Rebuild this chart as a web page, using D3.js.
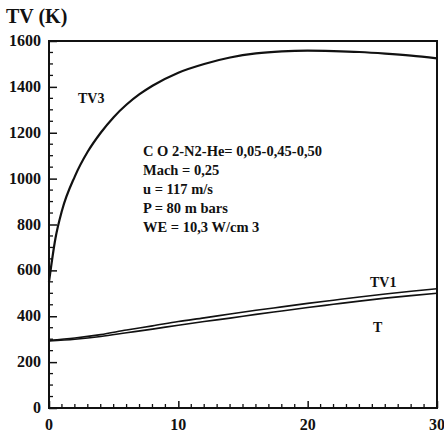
<!DOCTYPE html>
<html>
<head>
<meta charset="utf-8">
<script src="https://cdn.jsdelivr.net/npm/d3@7"></script>
<style>
  body { margin: 0; background: #fff; }
  svg text { font-family: "Liberation Serif", "DejaVu Serif", serif; font-weight: bold; fill: #111; }
</style>
</head>
<body>
<div id="chart"></div>
<script>
// axis ticks
const xTicks = [0, 10, 20, 30];
const yTicks = [0, 200, 400, 600, 800, 1000, 1200, 1400, 1600];

// TV3 curve (distance, temperature K)
const tv3Dist = [0, 0.5, 1, 2, 3, 4, 5, 6, 7, 8, 10, 12, 14, 16, 18, 20, 22, 24, 26, 28, 30];
const tv3Temp = [550, 740, 860, 1010, 1118, 1200, 1268, 1323, 1368, 1405, 1462, 1500, 1528, 1546, 1555, 1558, 1556, 1552, 1545, 1536, 1524];

// TV1 and T share the same sampling
const lowDist = [0, 2, 4, 6, 8, 10, 12, 14, 16, 18, 20, 22, 24, 26, 28, 30];
const tv1Temp = [295, 305, 320, 340, 358, 377, 393, 410, 426, 441, 456, 470, 484, 497, 509, 520];
const tTemp = [292, 300, 312, 328, 344, 361, 377, 392, 408, 423, 438, 452, 466, 479, 490, 500];

// annotation text
const notes = [
  'C O 2-N2-He= 0,05-0,45-0,50',
  'Mach = 0,25',
  'u = 117 m/s',
  'P = 80 m bars',
  'WE = 10,3 W/cm 3'
];

const width = 444;
const height = 435;

const svg = d3.select('#chart').append('svg')
  .attr('width', width)
  .attr('height', height);

const x = d3.scaleLinear().domain([0, 30]).range([49, 437]);
const y = d3.scaleLinear().domain([0, 1600]).range([408, 41]);

// frame
svg.append('rect')
  .attr('x', x(0)).attr('y', y(1600))
  .attr('width', x(30) - x(0)).attr('height', y(0) - y(1600))
  .attr('fill', 'none').attr('stroke', '#111').attr('stroke-width', 2);

// minor ticks (inward)
const yMinor = d3.range(50, 1600, 50).filter(v => v % 200 !== 0);
svg.append('g').selectAll('line').data(yMinor).enter().append('line')
  .attr('x1', x(0)).attr('x2', x(0) + 4)
  .attr('y1', d => y(d)).attr('y2', d => y(d))
  .attr('stroke', '#111').attr('stroke-width', 1.3);

const xMinor = d3.range(1, 30, 1).filter(v => v % 10 !== 0);
svg.append('g').selectAll('line').data(xMinor).enter().append('line')
  .attr('x1', d => x(d)).attr('x2', d => x(d))
  .attr('y1', y(0)).attr('y2', y(0) - 4)
  .attr('stroke', '#111').attr('stroke-width', 1.3);

// major ticks via d3 axes
const yAxis = svg.append('g')
  .attr('transform', `translate(${x(0)},0)`)
  .call(d3.axisRight(y).tickValues(yTicks).tickSize(8).tickFormat(''));
yAxis.select('.domain').remove();
yAxis.selectAll('line').attr('stroke', '#111').attr('stroke-width', 1.5);

svg.append('g').selectAll('text').data(yTicks).enter().append('text')
  .attr('x', 41)
  .attr('y', d => y(d) + 5)
  .attr('text-anchor', 'end')
  .attr('font-size', 16)
  .text(d => d);

const xAxis = svg.append('g')
  .attr('transform', `translate(0,${y(0)})`)
  .call(d3.axisTop(x).tickValues(xTicks).tickSize(7).tickFormat(''));
xAxis.select('.domain').remove();
xAxis.selectAll('line').attr('stroke', '#111').attr('stroke-width', 1.5);

svg.append('g').selectAll('text').data(xTicks).enter().append('text')
  .attr('x', d => x(d))
  .attr('y', 430)
  .attr('text-anchor', 'middle')
  .attr('font-size', 16)
  .text(d => d);

// axis title
svg.append('text')
  .attr('x', 6).attr('y', 23)
  .attr('font-size', 20)
  .text('TV (K)');

// curves
const line = d3.line()
  .x(d => x(d[0]))
  .y(d => y(d[1]))
  .curve(d3.curveMonotoneX);

const series = [
  { pts: d3.zip(tv3Dist, tv3Temp), w: 2.2 },
  { pts: d3.zip(lowDist, tv1Temp), w: 1.6 },
  { pts: d3.zip(lowDist, tTemp), w: 1.6 }
];

svg.append('g').selectAll('path').data(series).enter().append('path')
  .attr('d', d => line(d.pts))
  .attr('fill', 'none')
  .attr('stroke', '#111')
  .attr('stroke-width', d => d.w);

// curve labels
svg.append('text').attr('x', 78).attr('y', 103).attr('font-size', 14).text('TV3');
svg.append('text').attr('x', 370).attr('y', 287).attr('font-size', 14).text('TV1');
svg.append('text').attr('x', 373).attr('y', 332).attr('font-size', 14).text('T');

// annotation block
svg.append('g').selectAll('text').data(notes).enter().append('text')
  .attr('x', 143)
  .attr('y', (d, i) => 156 + i * 19)
  .attr('font-size', 14.5)
  .text(d => d);
</script>
</body>
</html>
